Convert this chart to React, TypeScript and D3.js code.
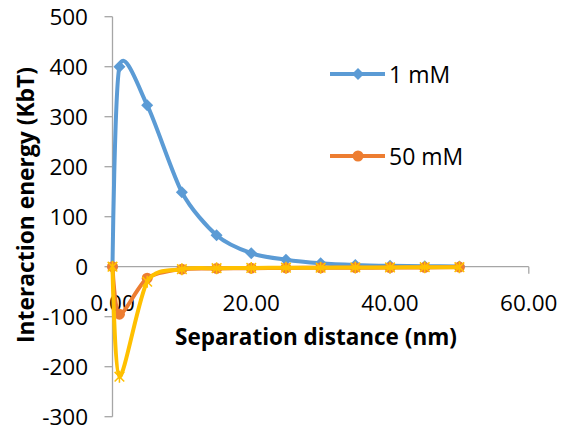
import React from "react";
import * as d3 from "d3";

const distances = [0, 1, 5, 10, 15, 20, 25, 30, 35, 40, 45, 50];
const energy1mM = [0, 400, 323, 149, 63, 27, 14, 7, 3.5, 1.8, 0.9, 0.4];
const energy50mM = [0, -95, -23, -5, -3.5, -3, -2.5, -2.2, -2, -1.7, -1.4, -0.8];
const energy100mM = [0, -220, -30, -5, -3, -2.5, -2, -2, -1.5, -1.5, -1, -1];
const xTicks = [0, 20, 40, 60];
const yTicks = [500, 400, 300, 200, 100, 0, -100, -200, -300];
const legendLabels = ["1 mM", "50 mM"];

const W = 561;
const H = 430;
const BLUE = "#5B9BD5";
const ORANGE = "#ED7D31";
const YELLOW = "#FFC000";
const AXIS = "#a6a6a6";
const FONT = "'Open Sans', 'Liberation Sans', sans-serif";

export default function App() {
  const x = d3.scaleLinear().domain([0, 60]).range([112.5, 528.8]);
  const y = d3.scaleLinear().domain([-300, 500]).range([416.7, 16.7]);

  const mk = (vals: number[]) =>
    d3
      .line<number>()
      .x((_, i) => x(distances[i]))
      .y((v) => y(v))
      .curve(d3.curveCardinal.tension(0.2))(vals) || "";

  const diamond = (cx: number, cy: number, r: number) =>
    `M${cx},${cy - r}L${cx + r},${cy}L${cx},${cy + r}L${cx - r},${cy}Z`;

  const star = (cx: number, cy: number, r: number) =>
    `M${cx - r * 0.8},${cy - r * 0.8}L${cx + r * 0.8},${cy + r * 0.8}M${cx + r * 0.8},${cy - r * 0.8}L${cx - r * 0.8},${cy + r * 0.8}M${cx},${cy - r}L${cx},${cy + r}`;

  const y0 = y(0);

  return (
    <svg
      width={W}
      height={H}
      style={{ position: "absolute", left: 0, top: 0, background: "#fff" }}
      fontFamily={FONT}
    >
      <rect x={0} y={0} width={W} height={H} fill="#fff" />
      {/* axes */}
      <line x1={x(0)} x2={x(0)} y1={y(500)} y2={y(-300)} stroke={AXIS} strokeWidth={1.3} />
      {yTicks.map((t) => (
        <g key={"y" + t}>
          <line x1={x(0) - 8} x2={x(0)} y1={y(t)} y2={y(t)} stroke={AXIS} strokeWidth={1.3} />
          <text x={88} y={y(t)} textAnchor="end" dominantBaseline="central" fontSize={22.5} fill="#000">
            {t}
          </text>
        </g>
      ))}
      <line x1={x(0)} x2={x(60)} y1={y0} y2={y0} stroke={AXIS} strokeWidth={1.3} />
      {xTicks.map((t) => (
        <g key={"x" + t}>
          <line x1={x(t)} x2={x(t)} y1={y0} y2={y0 + 7} stroke={AXIS} strokeWidth={1.3} />
          <text x={x(t)} y={302} textAnchor="middle" dominantBaseline="central" fontSize={22.5} fill="#000">
            {t.toFixed(2)}
          </text>
        </g>
      ))}

      {/* series */}
      <path d={mk(energy1mM)} fill="none" stroke={BLUE} strokeWidth={4} />
      {energy1mM.map((v, i) => (
        <path key={"b" + i} d={diamond(x(distances[i]), y(v), 6)} fill={BLUE} />
      ))}
      <path d={mk(energy50mM)} fill="none" stroke={ORANGE} strokeWidth={4} />
      {energy50mM.map((v, i) => (
        <circle key={"o" + i} cx={x(distances[i])} cy={y(v)} r={5.5} fill={ORANGE} />
      ))}
      <path d={mk(energy100mM)} fill="none" stroke={YELLOW} strokeWidth={4} />
      {energy100mM.map((v, i) => (
        <path key={"yl" + i} d={star(x(distances[i]), y(v), 6)} fill="none" stroke={YELLOW} strokeWidth={1.5} />
      ))}

      {/* axis titles */}
      <text x={316} y={345} textAnchor="middle" fontSize={22.5} fontWeight="bold" fill="#000">
        Separation distance (nm)
      </text>
      <text
        transform="translate(34,205) rotate(-90)"
        textAnchor="middle"
        fontSize={22.8}
        fontWeight="bold"
        fill="#000"
      >
        Interaction energy (KbT)
      </text>

      {/* legend */}
      {legendLabels.map((lab, i) => {
        const ly = i === 0 ? 74 : 156;
        const col = i === 0 ? BLUE : ORANGE;
        return (
          <g key={lab}>
            <line x1={330} x2={385} y1={ly} y2={ly} stroke={col} strokeWidth={4} />
            {i === 0 ? (
              <path d={diamond(358, ly, 6)} fill={col} />
            ) : (
              <circle cx={358} cy={ly} r={5.5} fill={col} />
            )}
            <text x={389} y={ly} dominantBaseline="central" fontSize={23} fill="#000">
              {lab}
            </text>
          </g>
        );
      })}
    </svg>
  );
}
